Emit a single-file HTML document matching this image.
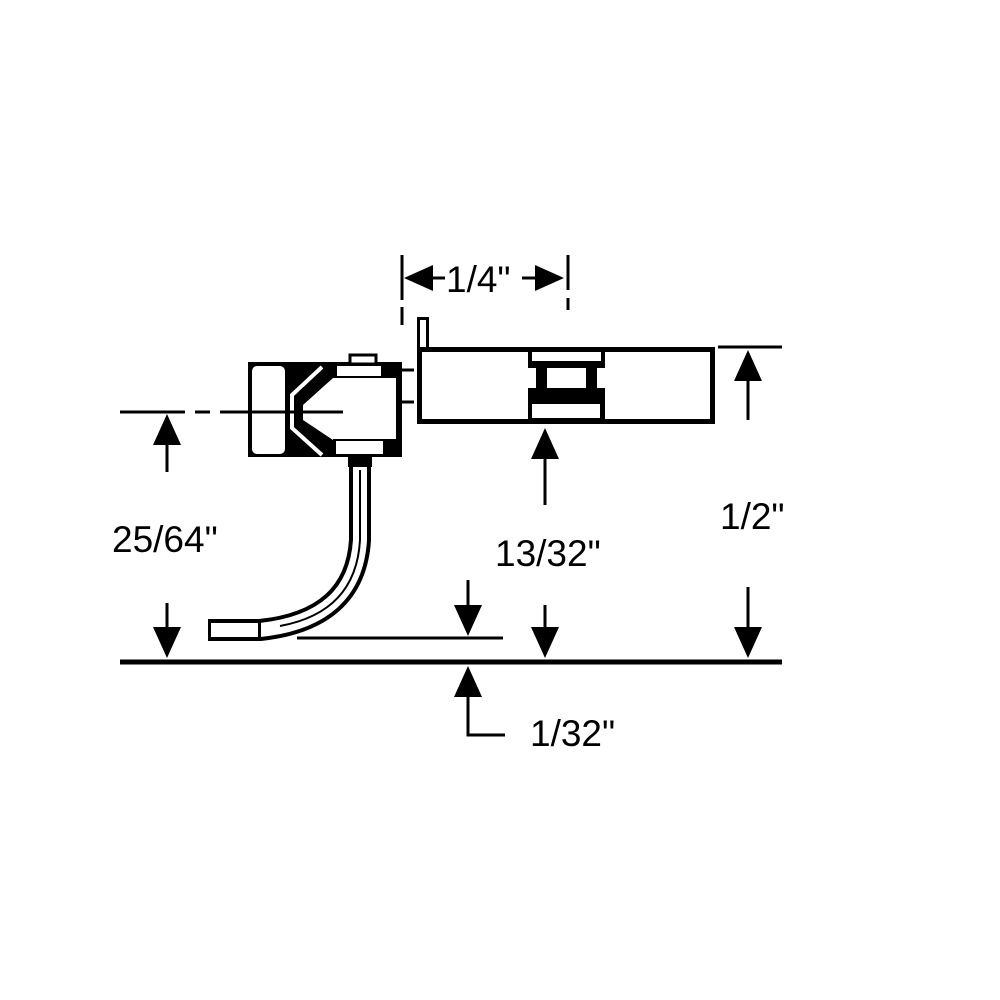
<!DOCTYPE html>
<html><head><style>body{margin:0;background:#fff}svg{display:block}text{font-family:"Liberation Sans",sans-serif;font-size:37px;fill:#000}</style></head>
<body><svg width="1000" height="1000" viewBox="0 0 1000 1000">
<rect width="1000" height="1000" fill="#fff"/>
<g stroke="#000" fill="none">
<line x1="120" y1="412" x2="185" y2="412" stroke-width="3"/>
<line x1="195" y1="412" x2="210" y2="412" stroke-width="3"/>
<line x1="402" y1="255" x2="402" y2="300" stroke-width="3"/>
<line x1="402" y1="307" x2="402" y2="325" stroke-width="3"/>
<line x1="568" y1="255" x2="568" y2="290" stroke-width="3"/>
<line x1="568" y1="298" x2="568" y2="310" stroke-width="3"/>
<line x1="420" y1="278" x2="445" y2="278" stroke-width="3"/>
<line x1="522" y1="278" x2="550" y2="278" stroke-width="3"/>
<line x1="120" y1="662" x2="782" y2="662" stroke-width="5"/>
<line x1="297" y1="638" x2="503" y2="638" stroke-width="3"/>
<line x1="718" y1="347" x2="782" y2="347" stroke-width="3"/>
<line x1="167" y1="420" x2="167" y2="472" stroke-width="3"/>
<line x1="167" y1="603" x2="167" y2="640" stroke-width="3"/>
<line x1="468" y1="580" x2="468" y2="630" stroke-width="3"/>
<polyline points="468,680 468,735 505,735" stroke-width="3"/>
<line x1="545" y1="440" x2="545" y2="505" stroke-width="3"/>
<line x1="545" y1="605" x2="545" y2="650" stroke-width="3"/>
<line x1="748" y1="360" x2="748" y2="420" stroke-width="3"/>
<line x1="748" y1="587" x2="748" y2="650" stroke-width="3"/>
<line x1="381" y1="370" x2="414" y2="370" stroke-width="3"/>
<line x1="400" y1="402" x2="414" y2="402" stroke-width="3"/>
</g>
<g fill="#000">
<polygon points="404,278 433,265 433,291"/>
<polygon points="564,278 535,265 535,291"/>
<polygon points="167,414 153,445 181,445"/>
<polygon points="167,658 153,627 181,627"/>
<polygon points="468,636 454,605 482,605"/>
<polygon points="468,666 454,697 482,697"/>
<polygon points="545,428 531,459 559,459"/>
<polygon points="545,658 531,627 559,627"/>
<polygon points="748,350 734,381 762,381"/>
<polygon points="748,658 734,627 762,627"/>
</g>
<rect x="419.5" y="349.5" width="293" height="72" fill="#fff" stroke="#000" stroke-width="5"/>
<rect x="418.5" y="318.5" width="9" height="30" fill="#fff" stroke="#000" stroke-width="3"/>
<rect x="528" y="350" width="77" height="72" fill="#000"/>
<rect x="532" y="352" width="69" height="9" fill="#fff"/>
<rect x="528" y="368" width="8" height="20" fill="#fff"/>
<rect x="597" y="368" width="8" height="20" fill="#fff"/>
<rect x="547" y="368" width="39" height="20" fill="#fff"/>
<rect x="532" y="404" width="68" height="14" fill="#fff"/>
<!-- shank -->
<path d="M360,457 L360,540 Q355,620 260,630 L208,630" fill="none" stroke="#000" stroke-width="22"/>
<path d="M360,468 L360,540 Q355,620 260,630 L211,630" fill="none" stroke="#fff" stroke-width="14" stroke-linecap="round"/>
<path d="M360,470 L360,540 Q356,612 280,626" fill="none" stroke="#000" stroke-width="2"/>
<rect x="209.5" y="621.5" width="50" height="17" fill="#fff" stroke="#000" stroke-width="3"/>
<rect x="348" y="455" width="24" height="12" fill="#000"/>
<!-- coupler head -->
<rect x="248" y="362" width="154" height="95" fill="#000"/>
<rect x="252" y="366" width="33" height="88" rx="5" fill="#fff"/>
<rect x="350" y="355" width="26" height="9" fill="#fff" stroke="#000" stroke-width="3"/>
<rect x="337" y="366" width="44" height="10" fill="#fff"/>
<rect x="333" y="378" width="63" height="61" fill="#fff"/>
<rect x="336" y="441" width="47" height="13" fill="#fff"/>
<polygon points="333,378 303,405 303,420 333,440" fill="#fff"/>
<polyline points="322,367 292,395 292,428 322,455" fill="none" stroke="#fff" stroke-width="4"/>
<polyline points="332,367 300,398 300,424 332,455" fill="none" stroke="#000" stroke-width="3"/>
<line x1="220" y1="412" x2="343" y2="412" stroke="#000" stroke-width="3"/>
<text x="112" y="552">25/64"</text>
<text x="495" y="566">13/32"</text>
<text x="720" y="529">1/2"</text>
<text x="446" y="292">1/4"</text>
<text x="530" y="746">1/32"</text>
</svg></body></html>
